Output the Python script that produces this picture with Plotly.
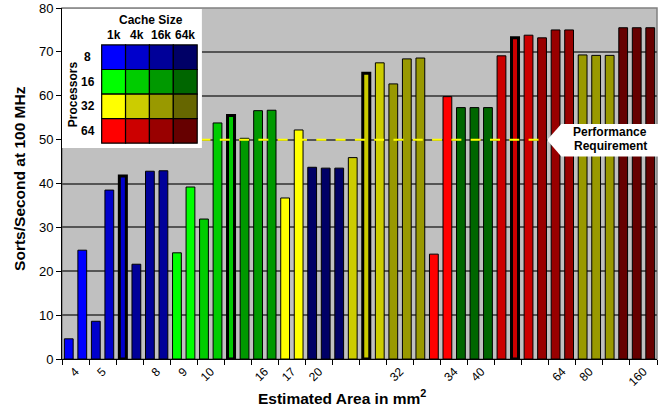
import plotly.graph_objects as go

# ---------------- data ----------------
sorts_per_sec = [4.6, 24.8, 8.6, 38.5, 41.7, 21.6, 42.8, 42.9,
                 24.2, 39.2, 31.9, 53.8, 55.5, 50.3, 56.6, 56.7,
                 36.7, 52.2, 43.7, 43.5, 43.5, 45.9, 65.1, 67.5,
                 62.7, 68.4, 68.6, 23.9, 59.8, 57.3, 57.3, 57.3,
                 69.1, 73.2, 73.8, 73.2, 75.0, 75.0, 69.3, 69.2,
                 69.2, 75.5, 75.5, 75.5]
bar_processors = [8, 8, 8, 8, 8, 8, 8, 8,
                  16, 16, 16, 16, 16, 16, 16, 16,
                  32, 32, 8, 8, 8, 32, 32, 32,
                  32, 32, 32, 64, 64, 16, 16, 16,
                  64, 64, 64, 64, 64, 64, 32, 32,
                  32, 64, 64, 64]
bar_cache = ["1k", "1k", "4k", "4k", "4k", "16k", "16k", "16k",
             "1k", "1k", "4k", "4k", "4k", "16k", "16k", "16k",
             "1k", "1k", "64k", "64k", "64k", "4k", "4k", "4k",
             "16k", "16k", "16k", "1k", "1k", "64k", "64k", "64k",
             "4k", "4k", "4k", "16k", "16k", "16k", "16k", "16k",
             "16k", "64k", "64k", "64k"]
highlighted_bars = [4, 12, 22, 33]

area_labels = ["4", "5", "", "8", "9", "10", "", "16", "17", "20", "",
               "", "32", "", "34", "40", "", "", "64", "80", "", "160"]

processors = [8, 16, 32, 64]
cache_sizes = ["1k", "4k", "16k", "64k"]
palette = {
    8:  ["#0000FF", "#0000CC", "#000099", "#000066"],
    16: ["#00FF00", "#00CC00", "#009900", "#006600"],
    32: ["#FFFF00", "#CCCC00", "#999900", "#666600"],
    64: ["#FF0000", "#CC0000", "#990000", "#660000"],
}
requirement = 50
requirement_label = ["Performance", "Requirement"]

# ---------------- geometry ----------------
W, H = 662, 408
ML, MR, MT, MB = 62, 4.5, 8, 48.7
PW, PH = W - ML - MR, H - MT - MB
FONT = "Arial, Liberation Sans, sans-serif"


def px2x(px):
    return (px - ML) / PW


def px2y(py):
    return (H - MB - py) / PH


n = len(sorts_per_sec)
xs = list(range(n))
colors = [palette[p][cache_sizes.index(c)] for p, c in zip(bar_processors, bar_cache)]
line_w = [3 if i in highlighted_bars else 1 for i in xs]
bar_w = [0.52 if i in highlighted_bars else 0.65 for i in xs]

fig = go.Figure()
fig.add_trace(go.Bar(
    x=xs, y=sorts_per_sec, width=bar_w,
    marker=dict(color=colors, line=dict(color="black", width=line_w)),
    showlegend=False, hoverinfo="skip"))

fig.add_trace(go.Scatter(
    x=[-0.25, 35.0], y=[requirement, requirement], mode="lines",
    line=dict(color="#FFFF00", width=2, dash="10px,9.3px"),
    showlegend=False, hoverinfo="skip"))

# legend subplot (x2/y2)
box = (62, 9, 202, 148)  # px
grid = (101.7, 45, 197.3, 143.3)
ux = (grid[2] - grid[0]) / 4
uy = (grid[3] - grid[1]) / 4
x2r = [-0.5 - (grid[0] - box[0]) / ux, 3.5 + (box[2] - grid[2]) / ux]
y2r = [3.5 + (box[3] - grid[3]) / uy, -0.5 - (grid[1] - box[1]) / uy]

fig.add_trace(go.Scatter(x=[0], y=[0], xaxis="x2", yaxis="y2", mode="markers",
                         marker=dict(opacity=0), showlegend=False, hoverinfo="skip"))

shapes = []
shapes.append(dict(type="rect", xref="paper", yref="paper", x0=0, x1=1, y0=0, y1=1,
                   line=dict(color="#808080", width=1.5), layer="below"))
shapes.append(dict(type="rect", xref="x2", yref="y2", x0=x2r[0], x1=x2r[1],
                   y0=y2r[0], y1=y2r[1], fillcolor="white", line=dict(width=0), layer="above"))
for r, p in enumerate(processors):
    for c, cs in enumerate(cache_sizes):
        shapes.append(dict(type="rect", xref="x2", yref="y2",
                           x0=c - 0.5, x1=c + 0.5, y0=r - 0.5, y1=r + 0.5,
                           fillcolor=palette[p][c], line=dict(color="black", width=1.2),
                           layer="above"))

# callout
tip = (547.5, 140)
cl, ct, cb, cr = 561.7, 124, 156.7, 668
path = "M {} {} L {} {} L {} {} L {} {} L {} {} Z".format(
    px2x(tip[0]), px2y(tip[1]), px2x(cl), px2y(ct), px2x(cr), px2y(ct),
    px2x(cr), px2y(cb), px2x(cl), px2y(cb))
shapes.append(dict(type="path", xref="paper", yref="paper", path=path,
                   fillcolor="white", line=dict(width=0), layer="above"))

ann = []
bold = dict(family=FONT, size=12, color="black")
ann.append(dict(text="<b>Cache Size</b>", xref="x2", yref="y2", x=1.5, y=-0.5,
                xshift=2, yshift=25, showarrow=False, font=bold,
                xanchor="center", yanchor="middle"))
for c, cs in enumerate(cache_sizes):
    ann.append(dict(text="<b>%s</b>" % cs, xref="x2", yref="y2", x=c, y=-0.5,
                    yshift=10, showarrow=False, font=bold,
                    xanchor="center", yanchor="middle"))
for r, p in enumerate(processors):
    ann.append(dict(text="<b>%d</b>" % p, xref="x2", yref="y2", x=-0.5, y=r,
                    xshift=-14, showarrow=False, font=bold,
                    xanchor="center", yanchor="middle"))
ann.append(dict(text="<b>Processors</b>", xref="x2", yref="y2", x=-0.5, y=1.5,
                xshift=-28.5, textangle=-90, showarrow=False, font=bold,
                xanchor="center", yanchor="middle"))

ann.append(dict(text="<b>%s</b>" % requirement_label[0], xref="paper", yref="paper",
                x=px2x(610.5), y=px2y(132.5), showarrow=False, font=bold, borderpad=0,
                xanchor="center", yanchor="middle"))
ann.append(dict(text="<b>%s</b>" % requirement_label[1], xref="paper", yref="paper",
                x=px2x(610.5), y=px2y(146.5), showarrow=False, font=bold, borderpad=0,
                xanchor="center", yanchor="middle"))

title_font = dict(family=FONT, size=15.5, color="black")
ann.append(dict(text="<b>Estimated Area in mm<sup>2</sup></b>", xref="paper", yref="paper",
                x=px2x(342.5), y=px2y(397), showarrow=False, font=title_font,
                xanchor="center", yanchor="middle"))
ann.append(dict(text="<b>Sorts/Second at 100 MHz</b>", xref="paper", yref="paper",
                x=px2x(20), y=px2y(179), showarrow=False, font=title_font,
                textangle=-90, xanchor="center", yanchor="middle"))

tick_centers = [2 * k + 0.5 for k in range(len(area_labels))]
tick_bounds = [2 * k - 0.5 for k in range(len(area_labels) + 1)]

fig.update_layout(
    width=W, height=H,
    margin=dict(l=ML, r=MR, t=MT, b=MB, pad=0),
    paper_bgcolor="white", plot_bgcolor="#C0C0C0",
    font=dict(family=FONT, color="black"),
    bargap=0.3,
    xaxis=dict(range=[-0.5, n - 0.5], tickmode="array", tickvals=tick_centers,
               ticktext=area_labels, tickangle=-45, ticks="",
               tickfont=dict(family=FONT, size=12, color="black"),
               minor=dict(tickmode="array", tickvals=tick_bounds, ticks="outside",
                          ticklen=5, tickcolor="black", tickwidth=1, showgrid=False),
               showline=True, linecolor="black", linewidth=1,
               showgrid=False, zeroline=False, fixedrange=True, automargin=False),
    yaxis=dict(range=[0, 80], dtick=10, tick0=0, showgrid=True, gridcolor="#555555",
               gridwidth=1.5, showline=True, linecolor="black", linewidth=1,
               ticks="outside", ticklen=5, tickcolor="black",
               tickfont=dict(family=FONT, size=13, color="black"),
               zeroline=False, fixedrange=True, automargin=False),
    xaxis2=dict(domain=[px2x(box[0]), px2x(box[2])], range=x2r, anchor="y2",
                visible=False, fixedrange=True),
    yaxis2=dict(domain=[px2y(box[3]), px2y(box[1])], range=y2r, anchor="x2",
                visible=False, fixedrange=True),
    shapes=shapes, annotations=ann,
)

fig.write_html("out.html", config={"displayModeBar": False},
               post_script="document.body.style.margin='0';document.body.style.overflow='hidden';")
